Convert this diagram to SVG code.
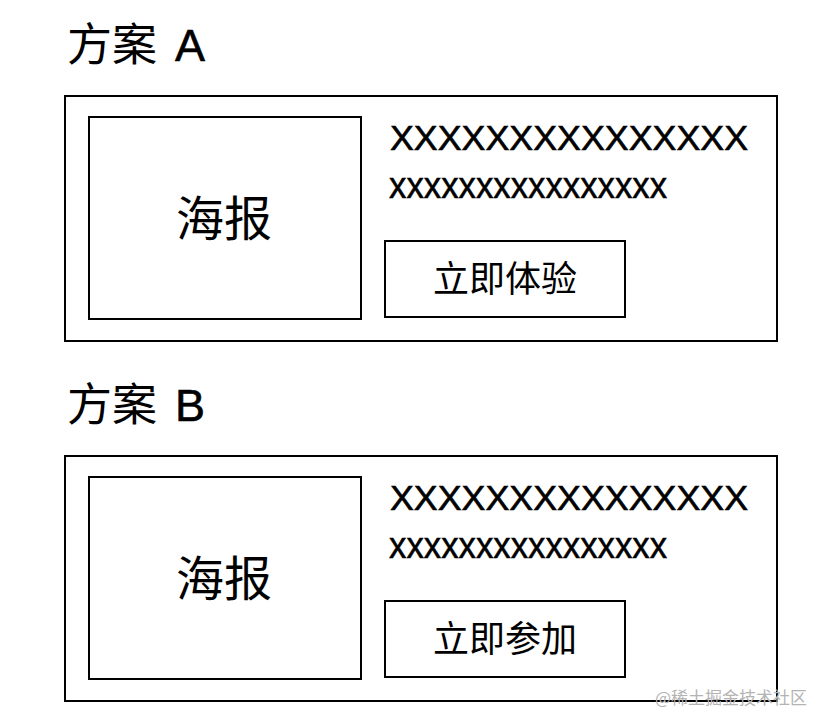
<svg xmlns="http://www.w3.org/2000/svg" width="832" height="728" viewBox="0 0 832 728">
<style>
.box{fill:none;stroke:#000;stroke-width:2}
.t{font-family:"Liberation Sans","Noto Sans CJK SC",sans-serif;fill:#000}
.cjk{font-family:"Noto Sans CJK SC","Liberation Sans",sans-serif;fill:#000}
.title{font-size:45px}
.big{font-size:35px;stroke:#000;stroke-width:0.6}
.small{font-size:36px;stroke:#000;stroke-width:0.5}
.poster{font-size:48px;text-anchor:middle}
.btn{font-size:36px;text-anchor:middle}
.wm{font-family:"Noto Sans CJK SC",sans-serif;font-size:17px;fill:#b4b4b4}
</style>
<rect width="832" height="728" fill="#fff"/>
<g id="planA">
  <text class="t title" x="67" y="61">方案 <tspan x="175" style="stroke:#000;stroke-width:0.6">A</tspan></text>
  <g id="cardA">
    <rect class="box" x="65" y="96" width="712" height="245"/>
    <g id="posterA">
      <rect class="box" x="89" y="117" width="272" height="202"/>
      <text class="cjk poster" x="224" y="236">海报</text>
    </g>
    <text class="t big" x="390" y="150" textLength="358" lengthAdjust="spacingAndGlyphs">XXXXXXXXXXXXXXX</text>
    <text class="t small" x="389" y="198" textLength="278" lengthAdjust="spacingAndGlyphs">xxxxxxxxxxxxxxxx</text>
    <g id="buttonA">
      <rect class="box" x="385" y="241" width="240" height="76"/>
      <text class="cjk btn" x="505" y="292">立即体验</text>
    </g>
  </g>
</g>
<g id="planB">
  <text class="t title" x="67" y="421">方案 <tspan x="175" style="stroke:#000;stroke-width:0.6">B</tspan></text>
  <g id="cardB">
    <rect class="box" x="65" y="456" width="712" height="245"/>
    <g id="posterB">
      <rect class="box" x="89" y="477" width="272" height="202"/>
      <text class="cjk poster" x="224" y="596">海报</text>
    </g>
    <text class="t big" x="390" y="510" textLength="358" lengthAdjust="spacingAndGlyphs">XXXXXXXXXXXXXXX</text>
    <text class="t small" x="389" y="558" textLength="278" lengthAdjust="spacingAndGlyphs">xxxxxxxxxxxxxxxx</text>
    <g id="buttonB">
      <rect class="box" x="385" y="601" width="240" height="76"/>
      <text class="cjk btn" x="505" y="652">立即参加</text>
    </g>
  </g>
</g>
<text class="wm" x="655" y="704">@稀土掘金技术社区</text>
</svg>
